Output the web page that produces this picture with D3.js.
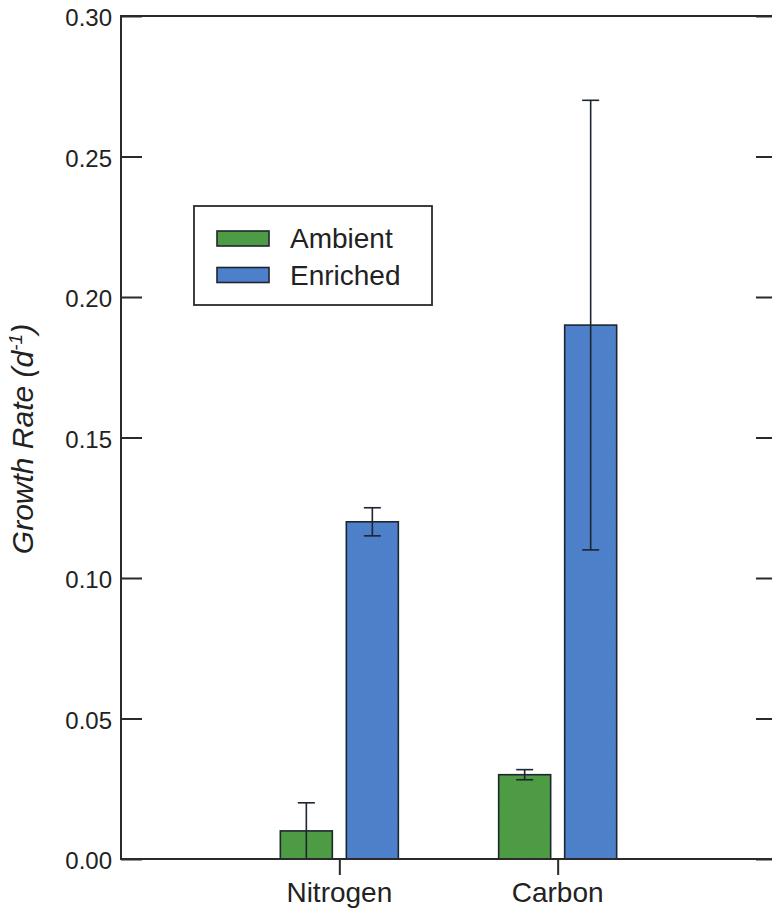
<!DOCTYPE html>
<html>
<head>
<meta charset="utf-8">
<script src="https://cdn.jsdelivr.net/npm/d3@7"></script>
<style>
  html, body { margin: 0; padding: 0; background: #ffffff; }
  svg { display: block; font-family: "Liberation Sans", Arial, Helvetica, sans-serif; }
</style>
</head>
<body>
<svg id="chart" width="772" height="909"></svg>
<script>
// ---- data ----
const categories = ["Nitrogen", "Carbon"];
const series = ["Ambient", "Enriched"];
const ambientValues = [0.010, 0.030];
const enrichedValues = [0.120, 0.190];
const ambientErrors = [0.010, 0.0018];
const enrichedErrors = [0.005, 0.080];
const yTickValues = [0.00, 0.05, 0.10, 0.15, 0.20, 0.25, 0.30];
const seriesColors = ["#4f9e45", "#4f82cc"];

(function () {
// ---- layout ----
const svg = d3.select("#chart");
const pL = 121, pR = 776, pT = 16, pB = 859;
const axisColor = "#2a2a2a";
const textColor = "#222";

const y = d3.scaleLinear().domain([0, 0.30]).range([pB, pT]);
const x = d3.scalePoint().domain(categories).range([pL, pR]).padding(1);
const xInner = d3.scaleBand().domain(series).range([-59, 59]).paddingInner(0.2121);

const valuesBySeries = [ambientValues, enrichedValues];
const errorsBySeries = [ambientErrors, enrichedErrors];
const rows = [];
categories.forEach((c, i) => {
  series.forEach((s, j) => {
    rows.push({cat: c, ser: s, si: j, value: valuesBySeries[j][i], err: errorsBySeries[j][i]});
  });
});

// subtle texture patterns
const defs = svg.append("defs");
series.forEach((s, j) => {
  const p = defs.append("pattern").attr("id", "pat" + j)
    .attr("patternUnits", "userSpaceOnUse").attr("width", 3).attr("height", 3);
  p.append("rect").attr("width", 3).attr("height", 3).attr("fill", seriesColors[j]);
  p.append("path").attr("d", "M0,3 L3,0").attr("stroke", "#000").attr("stroke-opacity", 0.06).attr("stroke-width", 0.8);
});

// bars
svg.append("g").selectAll("rect").data(rows).join("rect")
  .attr("x", d => x(d.cat) + xInner(d.ser))
  .attr("y", d => y(d.value))
  .attr("width", xInner.bandwidth())
  .attr("height", d => y(0) - y(d.value))
  .attr("fill", d => "url(#pat" + d.si + ")")
  .attr("stroke", "#1e2530")
  .attr("stroke-width", 1.6);

// error bars
const eg = svg.append("g").attr("stroke", "#1e2530").attr("stroke-width", 1.6).attr("fill", "none");
rows.forEach(d => {
  const cx = x(d.cat) + xInner(d.ser) + xInner.bandwidth() / 2;
  const y1 = y(d.value + d.err), y2 = y(Math.max(0, d.value - d.err));
  eg.append("line").attr("x1", cx).attr("x2", cx).attr("y1", y1).attr("y2", y2);
  eg.append("line").attr("x1", cx - 8.5).attr("x2", cx + 8.5).attr("y1", y1).attr("y2", y1);
  eg.append("line").attr("x1", cx - 8.5).attr("x2", cx + 8.5).attr("y1", y2).attr("y2", y2);
});

// frame
const frame = svg.append("g").attr("stroke", axisColor).attr("stroke-width", 2).attr("fill", "none");
frame.append("rect").attr("x", pL).attr("y", pT).attr("width", pR - pL).attr("height", pB - pT);

// left axis with inward ticks
const yAxisL = d3.axisRight(y).tickValues(yTickValues).tickSize(21).tickFormat("");
const gl = svg.append("g").attr("transform", `translate(${pL},0)`).call(yAxisL);
gl.select(".domain").remove();
gl.selectAll(".tick line").attr("stroke", axisColor).attr("stroke-width", 2);

// right axis inward ticks
const yAxisR = d3.axisLeft(y).tickValues(yTickValues).tickSize(20).tickFormat("");
const gr = svg.append("g").attr("transform", `translate(${pR},0)`).call(yAxisR);
gr.select(".domain").remove();
gr.selectAll(".tick line").attr("stroke", axisColor).attr("stroke-width", 2);

// y tick labels
svg.append("g").selectAll("text").data(yTickValues).join("text")
  .attr("x", pL - 9)
  .attr("y", d => y(d) + 10)
  .attr("text-anchor", "end")
  .attr("font-size", 24)
  .attr("fill", textColor)
  .text(d => d3.format(".2f")(d));

// x axis ticks + labels
const xAxis = d3.axisBottom(x).tickSize(16).tickFormat("");
const gx = svg.append("g").attr("transform", `translate(0,${pB})`).call(xAxis);
gx.select(".domain").remove();
gx.selectAll(".tick line").attr("stroke", axisColor).attr("stroke-width", 2);
svg.append("g").selectAll("text").data(categories).join("text")
  .attr("x", d => x(d))
  .attr("y", 902)
  .attr("text-anchor", "middle")
  .attr("font-size", 28)
  .attr("fill", textColor)
  .text(d => d);

// y title
const title = svg.append("text")
  .attr("transform", "translate(33,439) rotate(-90)")
  .attr("text-anchor", "middle")
  .attr("font-size", 30)
  .attr("font-style", "italic")
  .attr("fill", textColor);
title.append("tspan").text("Growth Rate (d");
title.append("tspan").attr("font-size", 19).attr("dy", -11).text("-1");
title.append("tspan").attr("dy", 11).text(")");

// legend
const lg = svg.append("g");
lg.append("rect").attr("x", 194).attr("y", 206).attr("width", 238).attr("height", 99)
  .attr("fill", "#fff").attr("stroke", axisColor).attr("stroke-width", 1.8);
series.forEach((s, j) => {
  const yy = 231 + j * 36.5;
  lg.append("rect").attr("x", 217).attr("y", yy).attr("width", 52).attr("height", 15)
    .attr("fill", "url(#pat" + j + ")").attr("stroke", "#1e2530").attr("stroke-width", 1.6);
  lg.append("text").attr("x", 290).attr("y", yy + 17).attr("font-size", 28)
    .attr("fill", textColor).text(s);
});
})();
</script>
</body>
</html>
